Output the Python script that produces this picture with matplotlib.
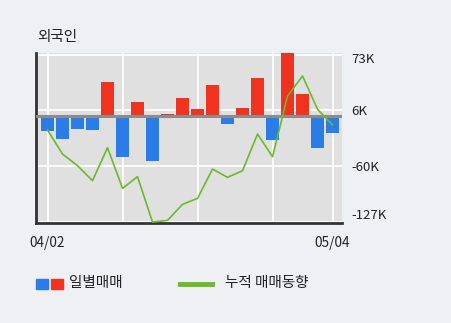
import matplotlib
matplotlib.use("Agg")
import matplotlib.pyplot as plt
from matplotlib.patches import Rectangle
from matplotlib.lines import Line2D
from matplotlib.transforms import ScaledTranslation
import numpy as np

plt.rcParams['font.family'] = ['Noto Sans CJK KR', 'DejaVu Sans']

# daily net trading (K shares) and cumulative trend
daily = [-17.9, -27.5, -15.9, -16.7, 40.2, -49.0, 16.7, -54.1, 2.0, 21.5,
         8.0, 36.6, -10.3, 9.2, 45.0, -28.7, 78.0, 25.9, -38.2, -20.3]
cumulative = [-17.1, -45.8, -59.7, -77.6, -38.2, -86.8, -72.8, -127.0, -125.0, -105.9,
              -98.7, -63.7, -73.6, -65.7, -21.9, -49.0, 23.5, 47.4, 7.6, -11.1]
xtick_pos = [0, 19]
xtick_labels = ['04/02', '05/04']
grid_x = [0, 5, 10, 15, 19]
ytick_vals = [-127, -60.33, 6.33, 73]
ytick_labels = ['-127K', '-60K', '6K', '73K']

BLUE = '#2a7de6'
RED = '#f0321e'
GREEN = '#6cb92c'
BG = '#eef0f4'

fig = plt.figure(figsize=(4.51, 3.23), dpi=100, facecolor=BG)
ax = fig.add_axes([36 / 451, 1 - 223.3 / 323, 305.7 / 451, 170 / 323])
ax.set_facecolor('#e0e0e0')

x = np.arange(len(daily))
colors = [RED if v > 0 else BLUE for v in daily]
ax.bar(x, daily, width=0.87, color=colors, zorder=3)
ax.axhline(0, color='#8c8c8c', lw=2.2, zorder=4)
ax.plot(x, cumulative, color=GREEN, lw=1.2, zorder=5)

for gx in grid_x:
    ax.axvline(gx, color='white', lw=1.3, zorder=1)
for gy in ytick_vals:
    ax.axhline(gy, color='white', lw=1.3, zorder=1)

ax.set_xlim(-0.767, 19.61)
ax.set_ylim(-128.5, 74.5)

ax.set_xticks(xtick_pos)
ax.set_xticklabels(xtick_labels, fontsize=9.8, color='#222222')
ax.yaxis.tick_right()
ax.set_yticks(ytick_vals)
ax.set_yticklabels(ytick_labels, fontsize=9.5, color='#222222')
ax.tick_params(axis='both', length=0)
ax.tick_params(axis='x', pad=9)
ax.tick_params(axis='y', pad=7)

# shift the outer y labels inward like the original
ylabels = ax.get_yticklabels()
ylabels[0].set_transform(ylabels[0].get_transform() + ScaledTranslation(0, 8 / 100, fig.dpi_scale_trans))
ylabels[-1].set_transform(ylabels[-1].get_transform() + ScaledTranslation(0, -3.5 / 100, fig.dpi_scale_trans))

for s in ['top', 'right']:
    ax.spines[s].set_visible(False)
for s in ['left', 'bottom']:
    ax.spines[s].set_color('#333333')
    ax.spines[s].set_linewidth(2)

fig.text(37 / 451, 1 - 37 / 323, '외국인', fontsize=10.5, va='center', ha='left', color='#222222')

# legend
fig.patches.append(Rectangle((36 / 451, 1 - 289 / 323), 11.5 / 451, 10.5 / 323,
                             transform=fig.transFigure, color=BLUE))
fig.patches.append(Rectangle((51 / 451, 1 - 289 / 323), 11.5 / 451, 10.5 / 323,
                             transform=fig.transFigure, color=RED))
fig.text(69 / 451, 1 - 283.5 / 323, '일별매매', fontsize=10.5, va='center', ha='left', color='#222222')
fig.lines.append(Line2D([180 / 451, 212 / 451], [1 - 283.5 / 323] * 2,
                        transform=fig.transFigure, color=GREEN, lw=3.5))
fig.text(225 / 451, 1 - 283.5 / 323, '누적 매매동향', fontsize=10.5, va='center', ha='left', color='#222222')

fig.savefig('out.png', dpi=100, facecolor=BG)
